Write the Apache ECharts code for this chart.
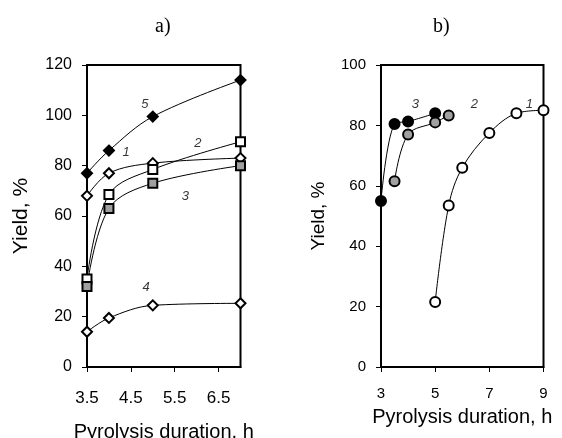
<!DOCTYPE html>
<html>
<head>
<meta charset="utf-8">
<script src="https://cdn.jsdelivr.net/npm/echarts@6/dist/echarts.min.js"></script>
<style>
  html, body { margin: 0; padding: 0; background: #fff; }
  #chart { width: 562px; height: 438px; }
</style>
</head>
<body>
<div id="chart"></div>
<script>
// panel a) x values (h) and yields (%)
const xA = [3.5, 4, 5, 7];
const a1 = [68, 77, 81, 83];
const a2 = [35, 68.5, 78.5, 89.5];
const a3 = [32, 63, 73, 80];
const a4 = [14, 19.5, 24.5, 25.3];
const a5 = [77, 86, 99.5, 114];

// panel b) each curve has its own x values
const xB1 = [5, 5.5, 6, 7, 8, 9];
const b1 = [21.5, 53.5, 66, 77.5, 84, 85];
const xB2 = [3.5, 4, 5, 5.5];
const b2 = [61.5, 77, 81, 83.3];
const xB3 = [3, 3.5, 4, 5];
const b3 = [55, 80.5, 81.3, 84];

// curve numbers [x, y, text]
const labelsA = [[4.82, 104.2, '5'], [4.39, 85.3, '1'], [6.03, 88.7, '2'], [5.74, 67.8, '3'], [4.85, 31.6, '4']];
const labelsB = [[4.27, 86.9, '3'], [6.45, 86.9, '2'], [8.48, 86.9, '1']];

const yTicksA = [0, 120, 20];
const yTicksB = [0, 100, 20];

const font = '"Liberation Sans", Arial, sans-serif';
const pair = (xs, ys) => xs.map((x, i) => [x, ys[i]]);

function line(name, idx, xs, ys, symbol, fill) {
  return {
    name: name,
    type: 'line',
    xAxisIndex: idx,
    yAxisIndex: idx,
    data: pair(xs, ys),
    smooth: 0.35,
    symbol: symbol,
    symbolSize: symbol === 'rect' ? 9 : 10,
    showAllSymbol: true,
    lineStyle: { color: '#000', width: 1 },
    itemStyle: { color: fill, borderColor: '#000', borderWidth: 2 },
    z: 3
  };
}

function labelSeries(idx, items) {
  return {
    type: 'scatter',
    xAxisIndex: idx,
    yAxisIndex: idx,
    symbolSize: 0,
    data: items.map(d => ({ value: [d[0], d[1]], name: d[2] })),
    label: {
      show: true,
      position: 'inside',
      formatter: p => p.name,
      fontFamily: font,
      fontStyle: 'italic',
      fontSize: 13,
      color: '#000'
    },
    silent: true,
    z: 4
  };
}

function xAxis(idx, min, max, interval, labelSize, labelMargin, nameGap) {
  return {
    gridIndex: idx,
    type: 'value',
    min: min,
    max: max,
    interval: interval,
    name: 'Pyrolysis duration, h',
    nameLocation: 'middle',
    nameGap: nameGap,
    nameTextStyle: { fontFamily: font, fontSize: 20, color: '#000' },
    axisLine: { onZero: false, lineStyle: { color: '#000', width: 2 } },
    axisTick: { show: true, length: 5, lineStyle: { color: '#000', width: 1 } },
    axisLabel: { fontFamily: font, fontSize: labelSize, color: '#000', margin: labelMargin, showMaxLabel: idx === 1 },
    splitLine: { show: false }
  };
}

function yAxis(idx, ticks, labelSize, nameGap, nameSize) {
  return {
    gridIndex: idx,
    type: 'value',
    min: ticks[0],
    max: ticks[1],
    interval: ticks[2],
    name: 'Yield, %',
    nameLocation: 'middle',
    nameGap: nameGap,
    nameTextStyle: { fontFamily: font, fontSize: nameSize, color: '#000' },
    axisLine: { onZero: false, lineStyle: { color: '#000', width: 2 } },
    axisTick: { show: true, length: 5, lineStyle: { color: '#000', width: 1 } },
    axisLabel: { fontFamily: font, fontSize: labelSize, color: '#000', margin: 15 },
    splitLine: { show: false }
  };
}

const chart = echarts.init(document.getElementById('chart'), null, { renderer: 'canvas' });

const titleFont = { fontFamily: '"Liberation Serif", "Times New Roman", serif', fontSize: 20, fontWeight: 'normal', color: '#000' };

const option = {
  backgroundColor: '#fff',
  animation: false,
  title: [
    { text: 'a)', left: 150, top: 12, textStyle: titleFont },
    { text: 'b)', left: 428, top: 12, textStyle: titleFont }
  ],
  grid: [
    { left: 87, right: 321.5, top: 65, bottom: 71, show: true, borderColor: '#000', borderWidth: 2, outerBoundsMode: 'none' },
    { left: 381, right: 18.5, top: 65, bottom: 71, show: true, borderColor: '#000', borderWidth: 2, outerBoundsMode: 'none' }
  ],
  xAxis: [
    xAxis(0, 3.5, 7, 1, 17, 23, 55),
    xAxis(1, 3, 9, 2, 15, 19, 40)
  ],
  yAxis: [
    yAxis(0, yTicksA, 16, 55, 21),
    yAxis(1, yTicksB, 15, 53, 19)
  ],
  series: [
    line('5', 0, xA, a5, 'diamond', '#000'),
    line('1', 0, xA, a1, 'diamond', '#fff'),
    line('2', 0, xA, a2, 'rect', '#fff'),
    line('3', 0, xA, a3, 'rect', '#a0a0a0'),
    line('4', 0, xA, a4, 'diamond', '#fff'),
    line('b3', 1, xB3, b3, 'circle', '#000'),
    line('b2', 1, xB2, b2, 'circle', '#a0a0a0'),
    line('b1', 1, xB1, b1, 'circle', '#fff'),
    labelSeries(0, labelsA),
    labelSeries(1, labelsB)
  ]
};

chart.setOption(option);
</script>
</body>
</html>
